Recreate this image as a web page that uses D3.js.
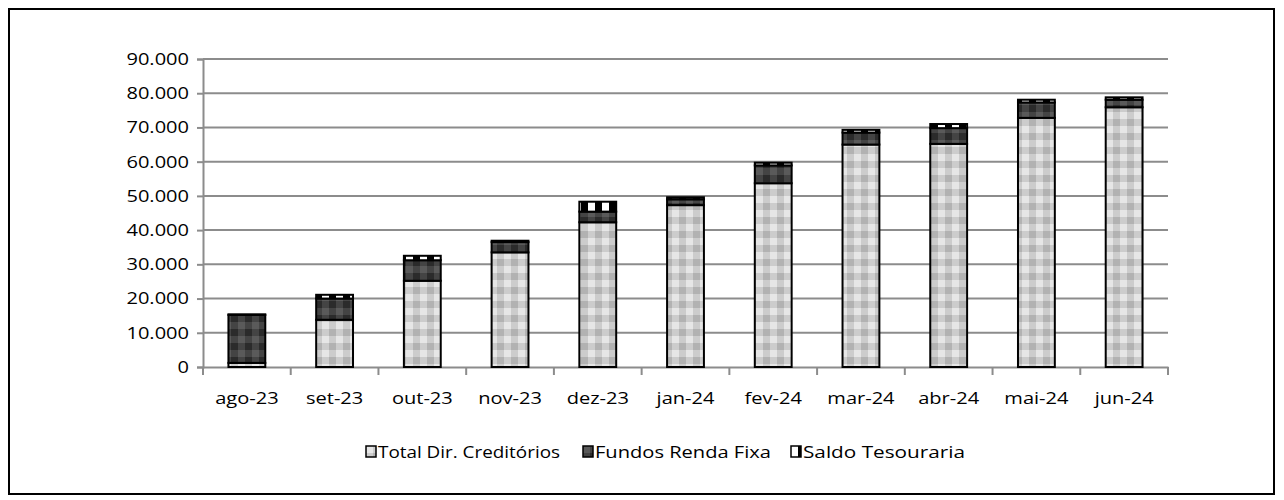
<!DOCTYPE html>
<html>
<head>
<meta charset="utf-8">
<script src="https://cdnjs.cloudflare.com/ajax/libs/d3/7.8.5/d3.min.js"></script>
<style>
  body { margin: 0; background: #fff; }
  svg { display: block; font-family: "Open Sans", sans-serif; }
</style>
</head>
<body>
<svg width="1284" height="500"></svg>
<script>
var months = ["ago-23", "set-23", "out-23", "nov-23", "dez-23", "jan-24", "fev-24", "mar-24", "abr-24", "mai-24", "jun-24"];
var totalDirCreditorios = [1200, 13800, 25200, 33500, 42300, 47300, 53700, 65000, 65200, 72800, 75900];
var fundosRendaFixa = [14000, 6200, 6000, 3000, 3100, 1700, 5200, 3500, 4600, 4500, 2200];
var saldoTesouraria = [200, 1100, 1300, 400, 2900, 600, 800, 800, 1200, 800, 700];
var seriesNames = ["Total Dir. Creditórios", "Fundos Renda Fixa", "Saldo Tesouraria"];
var yTicks = [0, 10000, 20000, 30000, 40000, 50000, 60000, 70000, 80000, 90000];

var svg = d3.select("svg");
var stretch = 1.18; // text in the original looks horizontally stretched

var rows = months.map(function(m, i) {
  return { month: m, t: totalDirCreditorios[i], f: fundosRendaFixa[i], s: saldoTesouraria[i] };
});
var keys = ["t", "f", "s"];
var stacked = d3.stack().keys(keys)(rows);

var x = d3.scaleBand()
    .domain(months)
    .range([203, 1168])
    .paddingInner(0.58)
    .paddingOuter(0.29);

var y = d3.scaleLinear()
    .domain([0, 90000])
    .range([367, 59]);

var fmt = d3.formatLocale({ decimal: ",", thousands: ".", grouping: [3], currency: ["", ""] }).format(",");

function stretchText(sel) {
  sel.attr("transform", function() {
    var ax = +d3.select(this).attr("x") || 0;
    return "translate(" + ax + ",0) scale(" + stretch + ",1) translate(" + (-ax) + ",0)";
  });
}

// patterns (Excel-like plaid fills)
var defs = svg.append("defs");
var plaids = {
  t: ["#e6e6e6", "#cccccc", "#cccccc", "#b2b2b2"],
  f: ["#5a5a5a", "#444444", "#444444", "#2b2b2b"],
  s: ["#ffffff", "#000000", "#ffffff", "#000000"]
};
keys.forEach(function(k) {
  var p = defs.append("pattern")
      .attr("id", "pat-" + k)
      .attr("patternUnits", "userSpaceOnUse")
      .attr("width", 14)
      .attr("height", 14);
  var c = plaids[k];
  p.append("rect").attr("x", 0).attr("y", 0).attr("width", 7).attr("height", 7).attr("fill", c[0]);
  p.append("rect").attr("x", 7).attr("y", 0).attr("width", 7).attr("height", 7).attr("fill", c[1]);
  p.append("rect").attr("x", 0).attr("y", 7).attr("width", 7).attr("height", 7).attr("fill", c[2]);
  p.append("rect").attr("x", 7).attr("y", 7).attr("width", 7).attr("height", 7).attr("fill", c[3]);
});

// outer frame
svg.append("rect")
    .attr("x", 9).attr("y", 9)
    .attr("width", 1265).attr("height", 485)
    .attr("fill", "none")
    .attr("stroke", "#000")
    .attr("stroke-width", 2);

// gridlines
svg.append("g")
  .selectAll("line")
  .data(yTicks.slice(1))
  .enter().append("line")
    .attr("x1", 203).attr("x2", 1168)
    .attr("y1", function(d) { return y(d); })
    .attr("y2", function(d) { return y(d); })
    .attr("stroke", "#8c8c8c")
    .attr("stroke-width", 2);

// y axis
var yAxis = svg.append("g")
    .attr("transform", "translate(203,0)")
    .call(d3.axisLeft(y).tickValues(yTicks).tickFormat(fmt).tickSize(6).tickPadding(8));
yAxis.select(".domain").attr("stroke", "#8c8c8c").attr("stroke-width", 2);
yAxis.selectAll(".tick line").attr("stroke", "#8c8c8c").attr("stroke-width", 2);
yAxis.selectAll(".tick text")
    .attr("font-family", "Open Sans")
    .attr("font-size", 17)
    .attr("fill", "#000")
    .call(stretchText);

// x axis
var xAxis = svg.append("g")
    .attr("transform", "translate(0," + y(0) + ")")
    .call(d3.axisBottom(x).tickSize(0).tickPadding(25));
xAxis.select(".domain").attr("stroke", "#8c8c8c").attr("stroke-width", 2);
xAxis.selectAll(".tick text")
    .attr("font-family", "Open Sans")
    .attr("font-size", 17)
    .attr("fill", "#000")
    .call(stretchText);

// x tick marks at category boundaries
var bounds = months.map(function(m) { return x(m) - x.step() * x.paddingInner() / 2; });
bounds.push(1168);
svg.append("g")
  .selectAll("line")
  .data(bounds)
  .enter().append("line")
    .attr("x1", function(d) { return d; })
    .attr("x2", function(d) { return d; })
    .attr("y1", y(0))
    .attr("y2", y(0) + 8)
    .attr("stroke", "#8c8c8c")
    .attr("stroke-width", 2);

// bars
svg.append("g")
  .selectAll("g")
  .data(stacked)
  .enter().append("g")
    .attr("fill", function(d) { return "url(#pat-" + d.key + ")"; })
  .selectAll("rect")
  .data(function(d) { return d; })
  .enter().append("rect")
    .attr("x", function(d) { return x(d.data.month); })
    .attr("y", function(d) { return y(d[1]); })
    .attr("width", x.bandwidth())
    .attr("height", function(d) { return y(d[0]) - y(d[1]); })
    .attr("stroke", "#000")
    .attr("stroke-width", 2);

// legend
var legendX = [366, 583, 791];
var legendW = [182, 176, 162];
var legend = svg.append("g");
keys.forEach(function(k, i) {
  var g = legend.append("g").attr("transform", "translate(" + legendX[i] + ",446)");
  g.append("rect")
      .attr("x", 0).attr("y", 0)
      .attr("width", 10).attr("height", 11)
      .attr("fill", "url(#pat-" + k + ")")
      .attr("stroke", "#000")
      .attr("stroke-width", 1.5);
  g.append("text")
      .attr("x", 12)
      .attr("y", 12)
      .attr("font-family", "Open Sans")
      .attr("font-size", 17)
      .attr("textLength", legendW[i])
      .attr("lengthAdjust", "spacingAndGlyphs")
      .text(seriesNames[i]);
});
</script>
</body>
</html>
